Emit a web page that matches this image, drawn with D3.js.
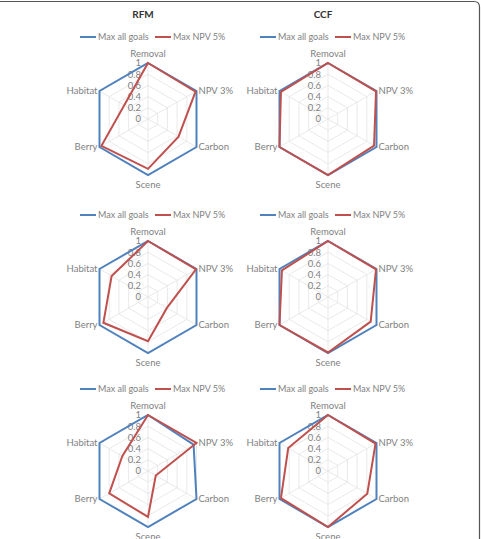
<!DOCTYPE html>
<html lang="en">
	<head>
		<meta charset="utf-8" />
		<title>RFM vs CCF radar charts</title>
		<script type="text/javascript" src="https://cdn.jsdelivr.net/npm/d3@7"></script>
		<style type="text/css">
			body { margin: 0; background: #fff; }
			svg text { font-family: Lato, "Open Sans", sans-serif; }
		</style>
	</head>
	<body>
		<script type="text/javascript">
			//Axes of every radar, clockwise from the top
			var categories = ["Removal", "NPV 3%", "Carbon", "Scene", "Berry", "Habitat"];
			var columnTitles = ["RFM", "CCF"];
			var seriesNames = ["Max all goals", "Max NPV 5%"];
			var tickValues = [0, 0.2, 0.4, 0.6, 0.8, 1];

			//One row per panel, reading order: RFM/CCF top, middle, bottom
			var maxAllGoals = [
				[1, 1, 1, 1, 1, 1],
				[1, 1, 1, 1, 1, 1],
				[1, 1, 1, 1, 1, 1],
				[1, 1, 1, 1, 1, 1],
				[1, 0.94, 1, 1, 1, 1],
				[1, 1, 1, 1, 1, 1]
			];
			var maxNpv5 = [
				[1, 0.98, 0.63, 0.89, 0.96, 0.49],
				[1, 0.99, 0.95, 1, 1, 0.97],
				[1, 0.99, 0.39, 0.79, 0.92, 0.75],
				[1, 0.99, 0.88, 0.99, 1, 0.95],
				[1, 1, 0.16, 0.82, 0.8, 0.53],
				[1, 0.98, 0.81, 1, 0.97, 0.82]
			];

			var w = 481;
			var h = 539;
			var radius = 56;
			var colX = [148, 328];
			var rowY = [119, 297, 471];
			var colors = ["#4F81BD", "#C0504D"];
			var labelColor = "#7f7f7f";

			var rScale = d3.scaleLinear().domain([0, 1]).range([0, radius]);
			var angle = d3.scaleLinear()
				.domain([0, categories.length])
				.range([0, 2 * Math.PI]);

			var svg = d3.select("body")
				.append("svg")
				.attr("width", w)
				.attr("height", h);

			//Frame round the figure (open at the bottom)
			svg.append("path")
				.attr("d", "M0,1.5H474Q479.5,1.5 479.5,7V" + h)
				.attr("fill", "none")
				.attr("stroke", "#555")
				.attr("stroke-width", 1.2);

			//Column titles
			svg.selectAll(".title")
				.data(columnTitles)
				.enter()
				.append("text")
				.attr("class", "title")
				.attr("x", function(d, i) { return colX[i] - 5; })
				.attr("y", 14)
				.attr("dy", "0.35em")
				.attr("text-anchor", "middle")
				.attr("font-size", 10)
				.attr("font-weight", "bold")
				.attr("fill", "#333")
				.text(function(d) { return d; });

			var line = d3.lineRadial()
				.angle(function(d, i) { return angle(i); })
				.radius(function(d) { return rScale(d); })
				.curve(d3.curveLinearClosed);

			function point(i, v) {
				var a = angle(i);
				return [Math.sin(a) * rScale(v), -Math.cos(a) * rScale(v)];
			}

			maxAllGoals.forEach(function(allVals, p) {
				var cx = colX[p % 2];
				var cy = rowY[Math.floor(p / 2)];
				var g = svg.append("g")
					.attr("transform", "translate(" + cx + "," + cy + ")");

				//Legend
				var legend = g.selectAll(".legend")
					.data(seriesNames)
					.enter()
					.append("g")
					.attr("transform", function(d, i) {
						return "translate(" + (i === 0 ? -68 : 7) + "," + -82 + ")";
					});
				legend.append("line")
					.attr("x1", 0).attr("x2", 16)
					.attr("stroke", function(d, i) { return colors[i]; })
					.attr("stroke-width", 2);
				legend.append("text")
					.attr("x", 18)
					.attr("dy", "0.35em")
					.attr("font-size", 9)
					.attr("fill", labelColor)
					.text(function(d) { return d; });

				//Grid rings and spokes
				g.selectAll(".ring")
					.data(tickValues.slice(1))
					.enter()
					.append("path")
					.attr("d", function(t) {
						return line(categories.map(function() { return t; }));
					})
					.attr("fill", "none")
					.attr("stroke", "#e3e3e3")
					.attr("stroke-width", 0.8);
				g.selectAll(".spoke")
					.data(categories)
					.enter()
					.append("line")
					.attr("x2", function(d, i) { return point(i, 1)[0]; })
					.attr("y2", function(d, i) { return point(i, 1)[1]; })
					.attr("stroke", "#e3e3e3")
					.attr("stroke-width", 0.8);

				//Tick labels up the first axis
				g.selectAll(".tick")
					.data(tickValues)
					.enter()
					.append("text")
					.attr("x", -7)
					.attr("y", function(t) { return -rScale(t); })
					.attr("dy", "0.35em")
					.attr("text-anchor", "end")
					.attr("font-size", 9.5)
					.attr("fill", labelColor)
					.text(function(t) { return t; });

				//Series
				[allVals, maxNpv5[p]].forEach(function(vals, s) {
					g.append("path")
						.attr("d", line(vals))
						.attr("fill", "none")
						.attr("stroke", colors[s])
						.attr("stroke-width", 2)
						.attr("stroke-linejoin", "miter");
				});

				//Category labels
				g.selectAll(".cat")
					.data(categories)
					.enter()
					.append("text")
					.attr("x", function(d, i) {
						var x = point(i, 1)[0];
						if (x > 1) return x + 2;
						if (x < -1) return x - 2;
						return x;
					})
					.attr("y", function(d, i) {
						var y = point(i, 1)[1];
						if (i === 0) return y - 9;
						if (i === 3) return y + 10;
						return y;
					})
					.attr("dy", "0.35em")
					.attr("text-anchor", function(d, i) {
						var x = point(i, 1)[0];
						return x > 1 ? "start" : x < -1 ? "end" : "middle";
					})
					.attr("font-size", 9.5)
					.attr("fill", labelColor)
					.text(function(d) { return d; });
			});
		</script>
</body>
</html>
